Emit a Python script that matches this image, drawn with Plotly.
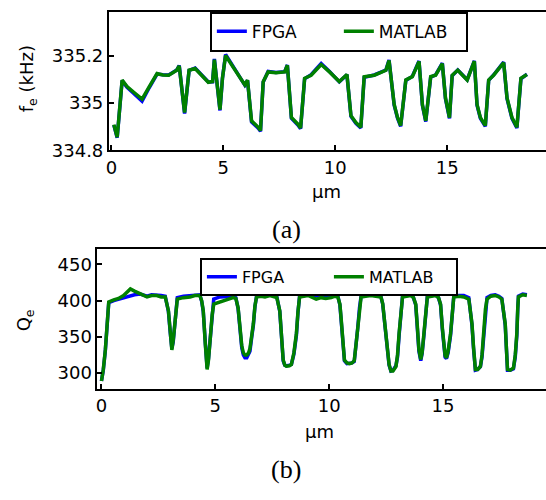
import plotly.graph_objects as go

# ---- panel (a): resonance frequency f_e (kHz) vs position (um) ----
fe_x = [0.11, 0.26, 0.48, 0.70, 1.00, 1.37, 1.70, 2.04, 2.30, 2.56, 2.92, 3.03, 3.27, 3.47,
        3.74, 4.05, 4.33, 4.52, 4.60, 4.85, 4.96, 5.10, 5.30, 5.52, 5.75, 5.96, 6.08, 6.26,
        6.56, 6.66, 6.78, 7.00, 7.35, 7.74, 7.86, 8.04, 8.33, 8.45, 8.63, 8.92, 9.15, 9.37,
        9.74, 10.18, 10.52, 10.70, 10.92, 11.14, 11.29, 11.74, 12.26, 12.40, 12.63, 12.78,
        12.92, 13.15, 13.44, 13.74, 13.89, 14.04, 14.26, 14.48, 14.78, 14.92, 15.10, 15.22,
        15.47, 15.89, 16.21, 16.33, 16.48, 16.70, 16.85, 17.07, 17.52, 17.67, 17.89, 18.11,
        18.29, 18.56]
fe_matlab = [334.908, 334.855, 335.096, 335.069, 335.045, 335.016, 335.070, 335.124, 335.118,
             335.117, 335.138, 335.156, 334.959, 335.138, 335.145, 335.115, 335.087, 335.090,
             335.183, 334.972, 335.104, 335.200, 335.170, 335.138, 335.105, 335.076, 335.096,
             334.924, 334.897, 334.883, 335.090, 335.131, 335.127, 335.131, 335.159, 334.938,
             334.910, 334.894, 335.104, 335.117, 335.140, 335.162, 335.131, 335.090, 335.120,
             334.946, 334.917, 334.897, 335.110, 335.117, 335.138, 335.179, 334.993, 334.938,
             334.904, 335.097, 335.111, 335.175, 334.993, 334.924, 335.111, 335.117, 335.166,
             335.021, 334.938, 335.117, 335.138, 335.097, 335.176, 334.993, 334.938, 334.904,
             335.097, 335.117, 335.170, 335.021, 334.938, 334.897, 335.104, 335.120]
fe_fpga = [334.906, 334.853, 335.094, 335.066, 335.040, 335.007, 335.066, 335.122, 335.119,
           335.118, 335.139, 335.158, 334.955, 335.137, 335.147, 335.116, 335.088, 335.089,
           335.186, 334.968, 335.103, 335.205, 335.174, 335.140, 335.106, 335.075, 335.095,
           334.920, 334.893, 334.880, 335.088, 335.133, 335.129, 335.132, 335.160, 334.935,
           334.907, 334.891, 335.102, 335.119, 335.143, 335.166, 335.133, 335.089, 335.119,
           334.943, 334.914, 334.894, 335.108, 335.118, 335.139, 335.181, 334.990, 334.935,
           334.901, 335.095, 335.112, 335.177, 334.990, 334.921, 335.109, 335.118, 335.168,
           335.018, 334.935, 335.115, 335.139, 335.098, 335.178, 334.990, 334.935, 334.901,
           335.095, 335.118, 335.172, 335.018, 334.935, 334.894, 335.102, 335.121]

# ---- panel (b): quality factor Q_e vs position (um) ----
qe_x = [0.00, 0.08, 0.17, 0.25, 0.32, 0.54, 0.75, 0.97, 1.12, 1.27, 1.45, 1.70, 2.00, 2.20,
        2.43, 2.62, 2.80, 2.94, 3.02, 3.09, 3.15, 3.23, 3.28, 3.33, 3.60, 3.89, 4.10, 4.32,
        4.40, 4.47, 4.56, 4.64, 4.70, 4.79, 4.86, 4.93, 5.20, 5.50, 5.78, 5.90, 6.00, 6.08,
        6.16, 6.23, 6.30, 6.38, 6.46, 6.52, 6.60, 6.67, 6.74, 6.81, 7.00, 7.18, 7.40, 7.61,
        7.70, 7.83, 7.92, 7.98, 8.05, 8.12, 8.25, 8.34, 8.45, 8.56, 8.63, 8.70, 9.07, 9.25,
        9.43, 9.65, 9.85, 10.09, 10.25, 10.38, 10.47, 10.52, 10.60, 10.67, 10.78, 10.89,
        11.00, 11.10, 11.18, 11.25, 11.33, 11.40, 11.60, 11.83, 12.05, 12.27, 12.35, 12.42,
        12.49, 12.56, 12.63, 12.71, 12.80, 12.93, 13.00, 13.07, 13.15, 13.22, 13.40, 13.58,
        13.70, 13.80, 13.87, 13.94, 14.02, 14.08, 14.16, 14.24, 14.31, 14.50, 14.67, 14.80,
        14.89, 14.97, 15.04, 15.09, 15.15, 15.22, 15.33, 15.40, 15.47, 15.70, 15.91, 16.13,
        16.27, 16.34, 16.42, 16.52, 16.64, 16.71, 16.78, 16.86, 16.93, 17.10, 17.29, 17.45,
        17.58, 17.73, 17.78, 17.83, 17.95, 18.09, 18.17, 18.24, 18.28, 18.31, 18.50, 18.68]
qe_matlab = [289, 305, 332, 370, 398, 401, 403, 407, 411, 416, 413, 409, 405, 407,
             407, 405, 405, 386, 355, 332, 345, 368, 390, 402, 404, 405, 407, 407,
             400, 386, 340, 305, 318, 355, 380, 395, 398, 401, 404, 403, 390, 364,
             338, 328, 325, 325, 328, 334, 352, 368, 393, 405, 406, 405, 407, 405,
             404, 386, 345, 318, 311, 309.5, 310, 312, 328, 355, 385, 405, 407, 404,
             402, 404, 403, 404, 406, 405, 395, 377, 340, 318, 314, 313,
             314, 317, 340, 364, 392, 405, 406, 407, 406, 405, 396, 377,
             352, 332, 312, 303, 303, 309, 325, 355, 385, 405, 406, 407,
             404, 395, 365, 332, 319, 328, 355, 388, 405, 406, 407, 404,
             395, 362, 332, 324, 321, 330, 355, 388, 405, 406, 405, 402,
             368, 335, 305, 305, 309, 325, 355, 388, 402, 406, 407, 405,
             402, 368, 335, 305, 304, 307, 325, 355, 390, 405, 408, 407]
qe_fpga = [289, 304, 331, 368, 397, 400, 402, 404, 406, 407, 408, 409, 406, 408,
           408, 407, 406, 385, 356, 334, 343, 366, 388, 404, 406, 407, 408, 408,
           399, 385, 342, 307, 320, 352, 385, 402, 405, 406, 406, 404, 389, 362,
           335, 325, 321, 321, 325, 330, 350, 366, 392, 406, 407, 407, 408, 406,
           405, 385, 344, 317, 311, 310, 311, 312, 326, 352, 384, 406, 408, 407,
           407, 407, 406, 406, 407, 406, 394, 375, 338, 317, 313, 313,
           314, 316, 338, 361, 390, 406, 407, 408, 407, 406, 395, 375,
           350, 330, 311, 303, 304, 310, 322, 352, 383, 406, 407, 408,
           404, 394, 362, 330, 317, 327, 352, 386, 406, 407, 408, 404,
           394, 360, 330, 322, 320, 328, 352, 386, 406, 407, 407, 404,
           366, 333, 304, 305, 309, 322, 352, 386, 404, 407, 408, 406,
           403, 366, 333, 304, 304, 306, 322, 352, 388, 406, 409, 408]

series_names = ["FPGA", "MATLAB"]
series_colors = ["#0000ff", "#008000"]

W, H = 546, 500
FONT = "DejaVu Sans, Liberation Sans, sans-serif"
SERIF = "Liberation Serif, DejaVu Serif, serif"

fig = go.Figure()

for name, color, ys in zip(series_names, series_colors, [fe_fpga, fe_matlab]):
    fig.add_trace(go.Scatter(x=fe_x, y=ys, mode="lines", name=name,
                             line=dict(color=color, width=3.5), xaxis="x", yaxis="y",
                             legend="legend"))
for name, color, ys in zip(series_names, series_colors, [qe_fpga, qe_matlab]):
    fig.add_trace(go.Scatter(x=qe_x, y=ys, mode="lines", name=name,
                             line=dict(color=color, width=3.5), xaxis="x2", yaxis="y2",
                             legend="legend2"))

axis_common = dict(showgrid=False, zeroline=False, showline=True, linecolor="black",
                   linewidth=2, ticks="inside", ticklen=5, tickwidth=1.5, tickcolor="black",
                   tickfont=dict(family=FONT, size=18, color="black"))

legend_common = dict(orientation="h", xanchor="left", yanchor="top",
                     bordercolor="black", borderwidth=2, bgcolor="white",
                     entrywidthmode="pixels")

fig.update_layout(
    width=W, height=H,
    margin=dict(l=0, r=0, t=0, b=0),
    paper_bgcolor="white", plot_bgcolor="white",
    xaxis=dict(domain=[106.5 / W, 1.0], range=[-0.11, 19.41], tickvals=[0, 5, 10, 15],
               mirror=True, anchor="y", **axis_common),
    yaxis=dict(domain=[1 - 153.3 / H, 1 - 12.5 / H], range=[334.8, 335.383],
               tickvals=[334.8, 335.0, 335.2], ticktext=["334.8", "335", "335.2"],
               anchor="x", **axis_common),
    xaxis2=dict(domain=[95 / W, 1.0], range=[-0.175, 19.52], tickvals=[0, 5, 10, 15],
                mirror=True, anchor="y2", **axis_common),
    yaxis2=dict(domain=[1 - 396.7 / H, 1 - 254 / H], range=[278.4, 471.2],
                tickvals=[300, 350, 400, 450], anchor="x2", **axis_common),
    legend=dict(x=208 / W, y=1 - 12 / H, entrywidth=82,
                font=dict(family=FONT, size=17, color="black"), **legend_common),
    legend2=dict(x=198 / W, y=1 - 263 / H, entrywidth=82,
                 font=dict(family=FONT, size=16, color="black"), **legend_common),
    showlegend=True,
)

annotations = [
    dict(text="f<sub>e</sub> (kHz)", x=26 / W, y=1 - 80 / H, textangle=-90),
    dict(text="\u03bcm", x=325 / W, y=1 - 195 / H),
    dict(text="Q<sub>e</sub>", x=23 / W, y=1 - 327 / H, textangle=-90),
    dict(text="\u03bcm", x=318 / W, y=1 - 440 / H),
]
for a in annotations:
    fig.add_annotation(xref="paper", yref="paper", showarrow=False,
                       xanchor="center", yanchor="middle",
                       font=dict(family=FONT, size=18, color="black"), **a)

for label, yc in [("(a)", 234), ("(b)", 479)]:
    fig.add_annotation(text=label, xref="paper", yref="paper", x=285 / W, y=1 - yc / H,
                       showarrow=False, xanchor="center", yanchor="middle",
                       font=dict(family=SERIF, size=26, color="black"))

fig.write_html("out.html")
